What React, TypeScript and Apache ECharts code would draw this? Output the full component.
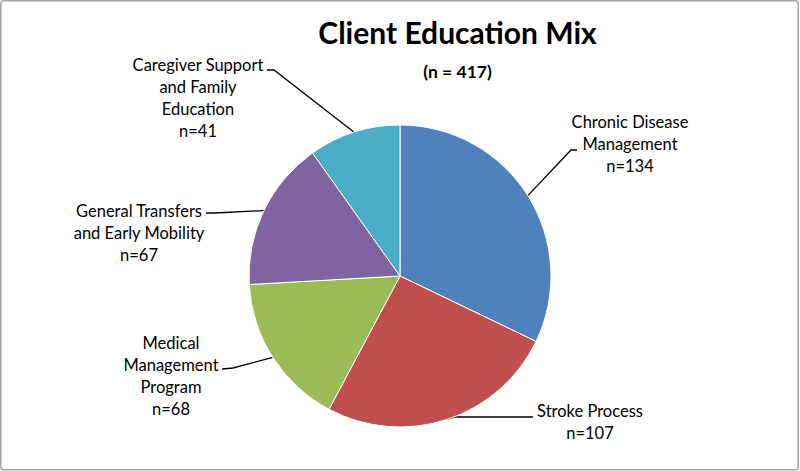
import React, { useEffect, useRef } from "react";
import * as echarts from "echarts";

const titleText = "Client Education Mix";
const subtitleText = "(n = 417)";
const categories = [
  "Chronic Disease\nManagement",
  "Stroke Process",
  "Medical\nManagement\nProgram",
  "General Transfers\nand Early Mobility",
  "Caregiver Support\nand Family\nEducation",
];
const counts = [134, 107, 68, 67, 41];
const colors = ["#4F81BD", "#C0504D", "#9BBB59", "#8064A2", "#4BACC6"];

// label layout: label centre and leader-line elbow/end points
const labelPos = [
  { x: 630, y: 144, elbow: [571, 150], end: [577, 150] },
  { x: 590, y: 422, elbow: [455, 417], end: [533, 417] },
  { x: 171, y: 376, elbow: [233, 368], end: [222, 369] },
  { x: 139, y: 233, elbow: [215, 213], end: [206, 213] },
  { x: 198, y: 98, elbow: [274, 70], end: [267, 70] },
];

const FONT = "Lato, 'Liberation Sans', sans-serif";

export default function App() {
  const ref = useRef<HTMLDivElement>(null);
  useEffect(() => {
    if (!ref.current) return;
    const chart = echarts.init(ref.current, undefined, { renderer: "svg" });
    chart.setOption({
      animation: false,
      backgroundColor: "#ffffff",
      graphic: [
        {
          type: "rect",
          shape: { x: 0.75, y: 0.75, width: 797.5, height: 469, r: 3 },
          style: { fill: "none", stroke: "#a5a5a5", lineWidth: 1.5 },
          silent: true,
        },
      ],
      title: [
        {
          text: titleText,
          left: 452.5,
          top: 12,
          textAlign: "center",
          textStyle: { fontFamily: FONT, fontSize: 30, fontWeight: "bold", color: "#000" },
        },
        {
          text: subtitleText,
          left: 452.5,
          top: 57,
          textAlign: "center",
          textStyle: { fontFamily: FONT, fontSize: 17.5, fontWeight: "bold", color: "#000" },
        },
      ],
      series: [
        {
          type: "pie",
          center: [400, 276],
          radius: 151,
          startAngle: 90,
          clockwise: true,
          avoidLabelOverlap: false,
          data: categories.map((name, i) => ({
            name,
            value: counts[i],
            itemStyle: { color: colors[i] },
          })),
          itemStyle: { borderColor: "#ffffff", borderWidth: 1 },
          label: {
            show: true,
            position: "outside",
            formatter: "{b}\nn={c}",
            fontFamily: FONT,
            fontSize: 16.5,
            lineHeight: 22,
            color: "#000",
            align: "center",
          },
          labelLine: {
            show: true,
            length: 20,
            length2: 10,
            lineStyle: { color: "#000", width: 1.3 },
          },
          emphasis: { disabled: true },
          labelLayout: (params: any) => {
            const p = labelPos[params.dataIndex];
            const pts = params.labelLinePoints;
            const start = pts && pts[0] ? pts[0] : p.elbow;
            return {
              x: p.x,
              y: p.y,
              align: "center",
              verticalAlign: "middle",
              labelLinePoints: [start, p.elbow, p.end],
            };
          },
        },
      ],
    });
    return () => chart.dispose();
  }, []);
  return (
    <div
      ref={ref}
      style={{ position: "fixed", left: 0, top: 0, width: 800, height: 471 }}
    />
  );
}
